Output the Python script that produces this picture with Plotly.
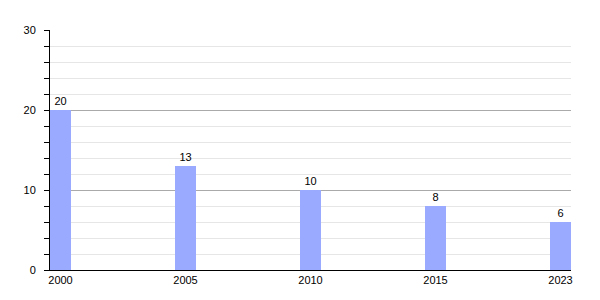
import plotly.graph_objects as go

years = ["2000", "2005", "2010", "2015", "2023"]
values = [20, 13, 10, 8, 6]
value_labels = ["20", "13", "10", "8", "6"]

fig = go.Figure(
    go.Bar(
        x=years,
        y=values,
        text=value_labels,
        textposition="outside",
        textfont=dict(color="#000000", size=11, family="Liberation Sans, Arial, sans-serif"),
        marker=dict(color="#99aaff", line=dict(width=0)),
        width=0.168,
        cliponaxis=False,
    )
)

fig.update_layout(
    width=600,
    height=300,
    margin=dict(l=50, r=29, t=30, b=30),
    paper_bgcolor="white",
    plot_bgcolor="white",
    showlegend=False,
    font=dict(family="Liberation Sans, Arial, sans-serif", size=11, color="#000000"),
    xaxis=dict(
        type="category",
        range=[-0.084, 4.084],
        showline=True,
        linecolor="#000000",
        linewidth=1,
        ticks="",
        showgrid=False,
        zeroline=False,
        tickfont=dict(size=11),
        ticklabelstandoff=0,
    ),
    yaxis=dict(
        range=[0, 30],
        dtick=10,
        tick0=0,
        showline=True,
        linecolor="#000000",
        linewidth=1,
        ticks="outside",
        ticklen=5,
        tickcolor="#000000",
        showgrid=True,
        gridcolor="#aaaaaa",
        gridwidth=1,
        zeroline=False,
        tickfont=dict(size=11),
        ticklabelstandoff=6,
        minor=dict(
            dtick=2,
            tick0=0,
            ticks="outside",
            ticklen=5,
            tickcolor="#000000",
            showgrid=True,
            gridcolor="#e6e6e6",
            gridwidth=1,
        ),
    ),
)

fig.write_html("out.html")
